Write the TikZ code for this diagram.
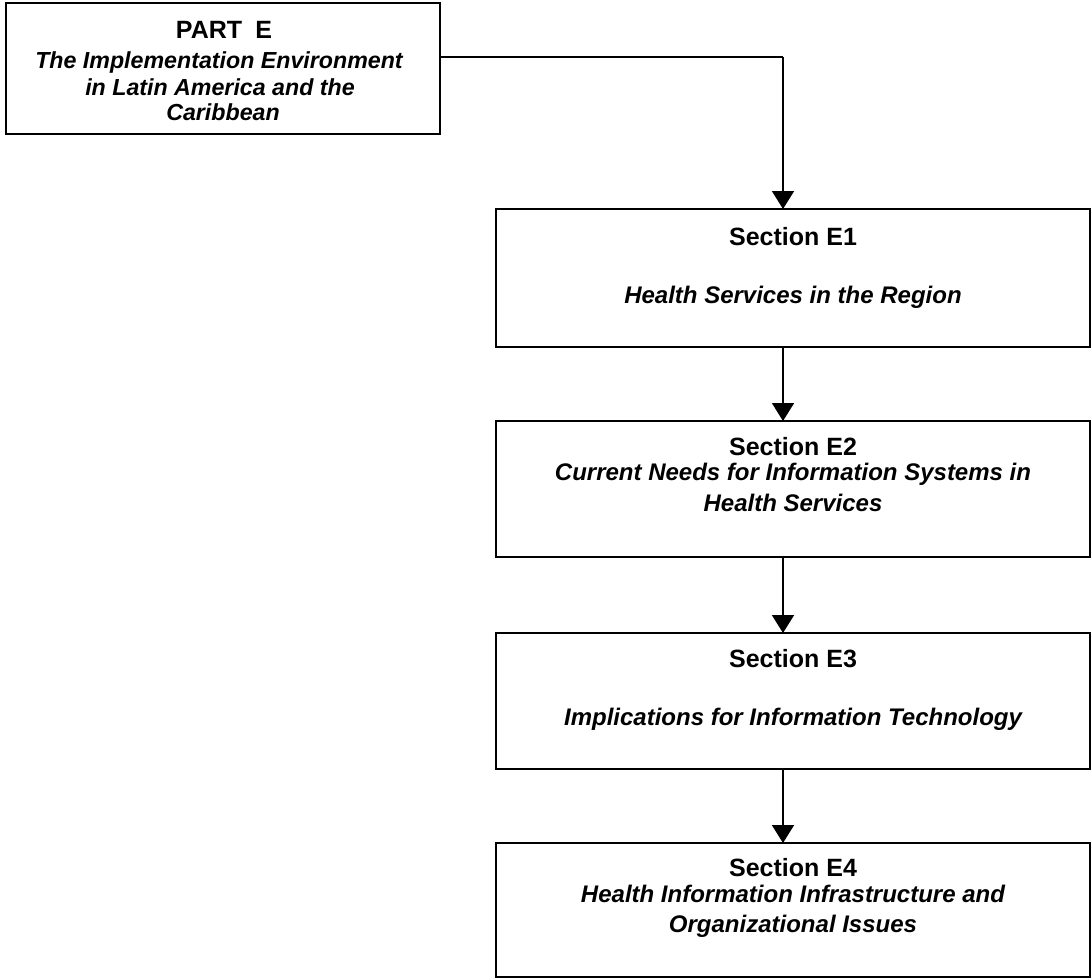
\documentclass[tikz,border=0pt]{standalone}
\usepackage{fontspec}
\setmainfont{Liberation Sans}
\usetikzlibrary{arrows.meta}

\tikzset{
  box/.style={draw, line width=2pt, inner sep=0pt, outer sep=0pt, anchor=north west},
  partbox/.style={box, minimum width=434pt, minimum height=131pt},
  secbox/.style={box, minimum width=594pt},
  headtxt/.style={font=\bfseries\fontsize{25}{28}\selectfont, anchor=base, inner sep=0pt},
  subtxt/.style={font=\bfseries\itshape\fontsize{24}{27}\selectfont, anchor=base, inner sep=0pt},
  parttxt/.style={font=\bfseries\itshape\fontsize{23.2}{26}\selectfont, anchor=base, inner sep=0pt},
  link/.style={line width=1.8pt, -{Triangle[width=22pt,length=18pt]}},
  plain/.style={line width=1.8pt},
}

\begin{document}
\begin{tikzpicture}[x=1pt,y=-1pt]
\useasboundingbox (0,0) rectangle (1092,979);

% boxes
\node[partbox] (partE) at (6,3) {};
\node[secbox, minimum height=138pt] (e1) at (496,209) {};
\node[secbox, minimum height=136pt] (e2) at (496,421) {};
\node[secbox, minimum height=136pt] (e3) at (496,633) {};
\node[secbox, minimum height=134pt] (e4) at (496,843) {};

% Part E texts
\node[headtxt] (partEh) at (224,39) {PART\hspace{0.25em} E};
\node[parttxt] (partEa) at (219,69) {The Implementation Environment};
\node[parttxt] (partEb) at (220,96) {in Latin America and the};
\node[parttxt] (partEc) at (223,121) {Caribbean};

% Section E1
\node[headtxt] (e1h) at (793,245) {Section E1};
\node[subtxt] (e1a) at (793,303) {Health Services in the Region};

% Section E2
\node[headtxt] (e2h) at (793,455) {Section E2};
\node[subtxt] (e2a) at (793,480) {Current Needs for Information Systems in};
\node[subtxt] (e2b) at (793,511) {Health Services};

% Section E3
\node[headtxt] (e3h) at (793,667) {Section E3};
\node[subtxt] (e3a) at (793,725) {Implications for Information Technology};

% Section E4
\node[headtxt] (e4h) at (793,876) {Section E4};
\node[subtxt] (e4a) at (793,902) {Health Information Infrastructure and};
\node[subtxt] (e4b) at (793,932) {Organizational Issues};

% connectors
\coordinate (turn) at (783,57);
\draw[plain] (partE.east |- turn) -- (turn);
\draw[link] (turn) -- (e1.north -| turn);
\draw[link] (e1.south -| turn) -- (e2.north -| turn);
\draw[link] (e2.south -| turn) -- (e3.north -| turn);
\draw[link] (e3.south -| turn) -- (e4.north -| turn);
\end{tikzpicture}
\end{document}
